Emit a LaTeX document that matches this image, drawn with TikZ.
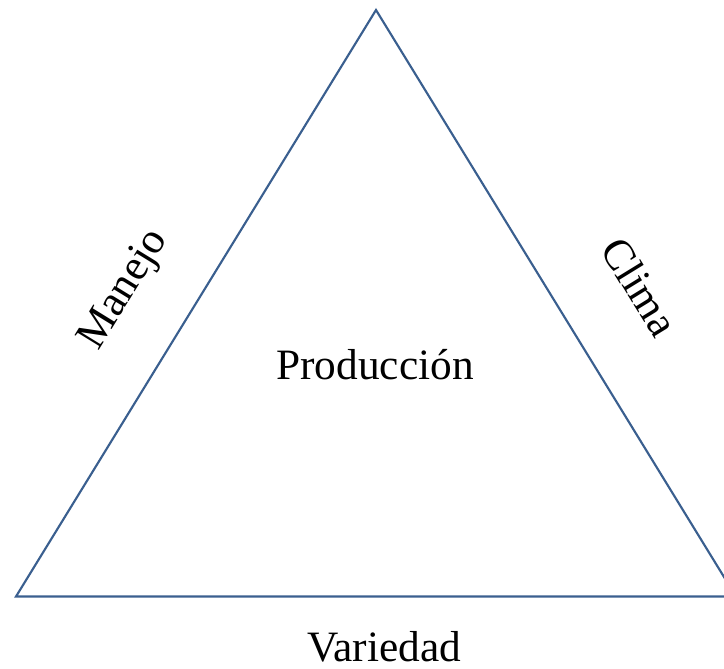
\documentclass[tikz,border=0pt]{standalone}
\usepackage{fontspec}
\setmainfont{Liberation Serif}
\definecolor{tri}{HTML}{3A5F8F}
\begin{document}
\begin{tikzpicture}[x=0.75pt,y=-0.75pt,
  lbl/.style={font=\fontsize{32.5}{38}\selectfont, inner sep=0pt, text=black}]
\useasboundingbox (0,0) rectangle (724,668);
\clip (0,0) rectangle (724,668);
\coordinate (A) at (376,10);
\coordinate (B) at (16,596.5);
\coordinate (C) at (736,596.5);
\draw[tri, line width=1.6pt, line join=miter] (A) -- (B) -- (C) -- cycle;
\node[lbl] (prod) at (375,365) {Producción};
\node[lbl] (var) at (384,647) {Variedad};
\node[lbl, rotate=58.4] (man) at (125,290) {Manejo};
\node[lbl, rotate=-58.4] (cli) at (640,287) {Clima};
\end{tikzpicture}
\end{document}
